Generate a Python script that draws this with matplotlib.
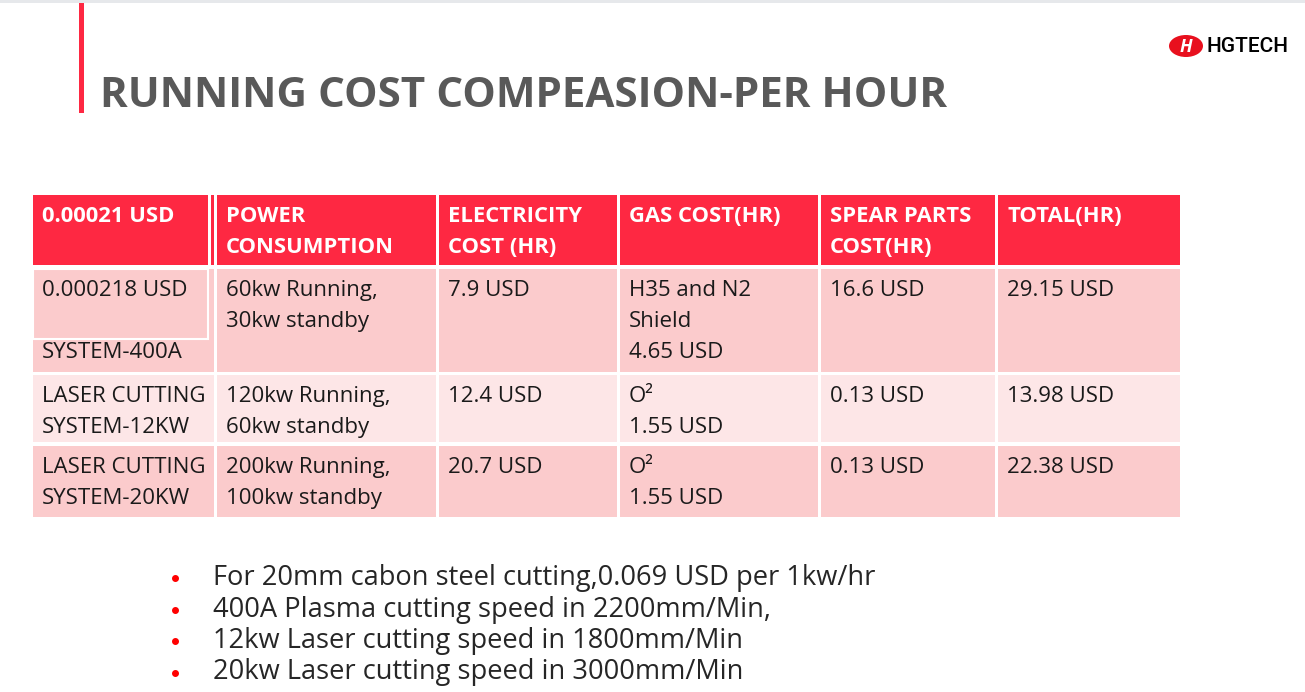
import matplotlib.pyplot as plt
from matplotlib.patches import Rectangle, Ellipse

plt.rcParams['font.family'] = ['Open Sans', 'DejaVu Sans']

# Table content
headers = ["0.00021 USD", "POWER\nCONSUMPTION", "ELECTRICITY\nCOST (HR)",
           "GAS COST(HR)", "SPEAR PARTS\nCOST(HR)", "TOTAL(HR)"]
systems = ["0.000218 USD\n\nSYSTEM-400A", "LASER CUTTING\nSYSTEM-12KW", "LASER CUTTING\nSYSTEM-20KW"]
power = ["60kw Running,\n30kw standby", "120kw Running,\n60kw standby", "200kw Running,\n100kw standby"]
electricity = ["7.9 USD", "12.4 USD", "20.7 USD"]
gas = ["H35 and N2\nShield\n4.65 USD", "O\u00b2\n1.55 USD", "O\u00b2\n1.55 USD"]
spare_parts = ["16.6 USD", "0.13 USD", "0.13 USD"]
totals = ["29.15 USD", "13.98 USD", "22.38 USD"]

notes = ["For 20mm cabon steel cutting,0.069 USD per 1kw/hr",
         "400A Plasma cutting speed in 2200mm/Min,",
         "12kw Laser cutting speed in 1800mm/Min",
         "20kw Laser cutting speed in 3000mm/Min"]

title = "RUNNING COST COMPEASION-PER HOUR"

# layout in pixels
col_left = [33, 217, 439, 620, 821, 998]
col_right = [214, 436, 617, 818, 995, 1180]
row_top = [195, 269, 375, 446]
row_bot = [265, 372, 442, 517]
row_colors = ["#fe2842", "#fbcbcc", "#fde6e7", "#fbcbcc"]

RED = "#fe2842"

fig = plt.figure(figsize=(13.05, 6.92), dpi=100)
ax = fig.add_axes([0, 0, 1, 1])
ax.set_xlim(0, 1305)
ax.set_ylim(692, 0)
ax.axis('off')

# top grey strip and title bar
ax.add_patch(Rectangle((0, 0), 1305, 3, color="#e6e8eb", lw=0))
ax.add_patch(Rectangle((79, 3), 5, 110, color=RED, lw=0))
ax.text(100, 107, title, fontsize=30.3, fontweight='bold', color="#595959",
        va='baseline', ha='left')

# logo
ax.add_patch(Ellipse((1186, 46), 34, 22, color="#e8101e", lw=0))
ax.text(1186, 46.5, "H", fontsize=13, fontweight='bold', style='italic', color='white',
        ha='center', va='center')
ax.text(1207, 46, "HGTECH", fontsize=15, color='black', ha='left', va='center',
        family=['Roboto', 'DejaVu Sans'], fontweight='medium')

columns = [systems, power, electricity, gas, spare_parts, totals]

# header row
for c in range(6):
    left = col_left[c]
    right = col_right[c]
    if c == 0:
        right = 208
    ax.add_patch(Rectangle((left, row_top[0]), right - left, row_bot[0] - row_top[0],
                           color=row_colors[0], lw=0))
    for i, line in enumerate(headers[c].split("\n")):
        ax.text(left + 9, row_top[0] + 21.5 + 31 * i, line, fontsize=15.8, fontweight='bold',
                color='white', ha='left', va='center')
# thin red strip next to first header cell
ax.add_patch(Rectangle((211, row_top[0]), 3, row_bot[0] - row_top[0], color=RED, lw=0))

# body rows
for r in range(3):
    for c in range(6):
        left = col_left[c]
        ax.add_patch(Rectangle((left, row_top[r + 1]), col_right[c] - left,
                               row_bot[r + 1] - row_top[r + 1], color=row_colors[r + 1], lw=0))
        for i, line in enumerate(columns[c][r].split("\n")):
            ax.text(left + 9, row_top[r + 1] + 21.5 + 31 * i, line, fontsize=16,
                    color='#1a1a1a', ha='left', va='center')

# white outline inside the first body cell
ax.add_patch(Rectangle((33, 269), 175, 70, fill=False, edgecolor='white', lw=1.5))

# notes below the table
for i, note in enumerate(notes):
    y = 578 + 31.5 * i
    ax.plot(175, y, 'o', color='#ff0000', ms=4)
    ax.text(213, y, note, fontsize=19.6, color='#262626', ha='left', va='center')

fig.savefig("out.png", dpi=100)
